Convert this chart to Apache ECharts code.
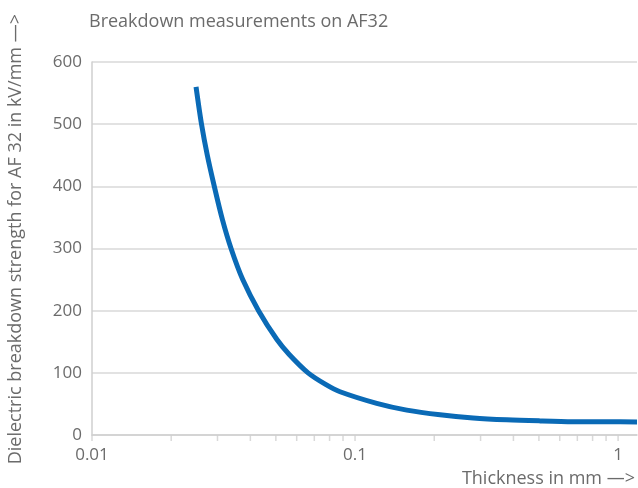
<!DOCTYPE html>
<html>
<head>
<meta charset="utf-8">
<script src="https://cdn.jsdelivr.net/npm/echarts@6/dist/echarts.min.js"></script>
<style>html,body{margin:0;padding:0;background:#fff}#c{width:638px;height:488px}</style>
</head>
<body>
<div id="c"></div>
<script>
var titleText = 'Breakdown measurements on AF32';
var xName = 'Thickness in mm \u2014>';
var yName = 'Dielectric breakdown strength for AF 32 in kV/mm \u2014>';
var thickness = [0.02486, 0.02608, 0.02744, 0.02917, 0.03134, 0.03378, 0.03741, 0.04297, 0.05039, 0.0561, 0.06628, 0.07757, 0.0877, 0.1209, 0.1573, 0.2105, 0.281, 0.3774, 0.5051, 0.6744, 0.908, 1.18];
var strength  = [560, 500, 450, 400, 346, 300, 250, 200, 154, 130, 100, 81, 69.6, 50.9, 40, 32.5, 27.5, 24.5, 22.7, 21.4, 21.2, 21];
var xTicks = [0.01,0.02,0.03,0.04,0.05,0.06,0.07,0.08,0.09,0.1,0.2,0.3,0.4,0.5,0.6,0.7,0.8,0.9,1];

var font = 'Open Sans';
var gray = '#6b6b6b';
var chart = echarts.init(document.getElementById('c'));
chart.setOption({
  animation: false,
  textStyle: {fontFamily: font},
  title: {text: titleText, left: 84, top: 8, textStyle: {fontFamily: font, fontSize: 18, fontWeight: 'normal', color: gray}},
  grid: {left: 92, right: 1, top: 62, bottom: 52, containLabel: false},
  xAxis: {
    type: 'log', logBase: 10, min: 0.01, max: 1.18,
    axisLine: {show: true, lineStyle: {color: '#cfcfcf', width: 1.5}},
    axisTick: {show: false},
    splitLine: {show: false},
    axisLabel: {color: gray, fontSize: 17, margin: 12, fontFamily: font},
    name: xName, nameLocation: 'end',
    nameTextStyle: {color: gray, fontSize: 18, align: 'right', verticalAlign: 'top', padding: [35, 2, 0, 0], fontFamily: font},
    nameGap: 0
  },
  yAxis: {
    type: 'value', min: 0, max: 600, interval: 100,
    axisLine: {show: true, lineStyle: {color: '#cfcfcf', width: 1.5}},
    axisTick: {show: false},
    splitLine: {show: true, lineStyle: {color: '#d9d9d9', width: 1.5}},
    axisLabel: {color: gray, fontSize: 17, margin: 10, fontFamily: font}
  },
  graphic: [{
    type: 'text', left: 7, top: 14, rotation: Math.PI / 2,
    style: {text: yName, fill: gray, fontSize: 18, fontFamily: font}
  }],
  series: [{
    type: 'scatter', silent: true, clip: false, z: 1,
    symbol: 'rect', symbolSize: [1.5, 6], symbolOffset: [0, 3],
    itemStyle: {color: '#cfcfcf'},
    data: xTicks.map(function (v) { return [v, 0]; })
  }, {
    type: 'line', smooth: 0.3, showSymbol: false, z: 3,
    lineStyle: {color: '#0a6ab6', width: 5},
    data: thickness.map(function (t, i) { return [t, strength[i]]; })
  }]
});
</script>
</body>
</html>
